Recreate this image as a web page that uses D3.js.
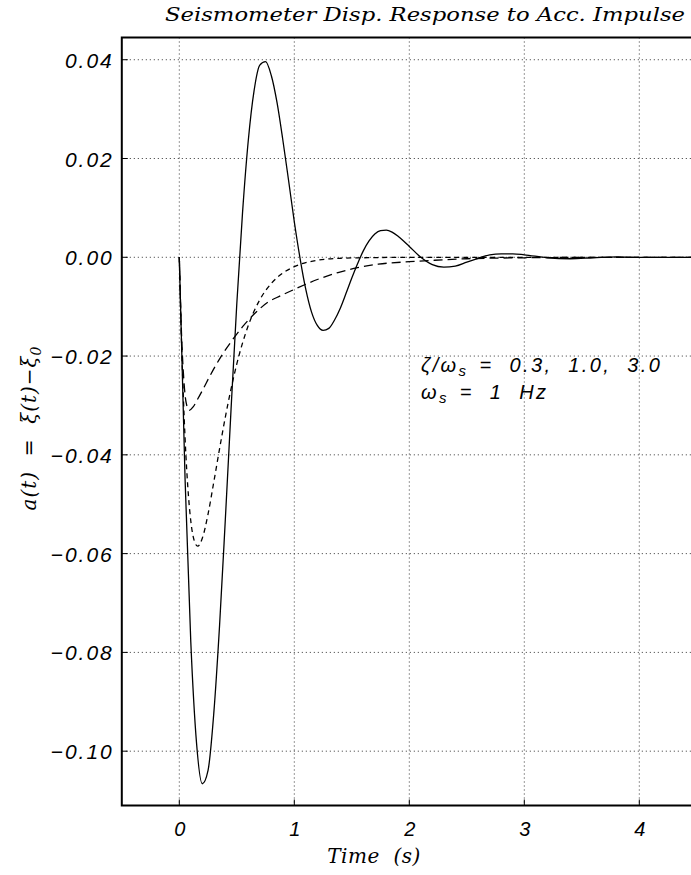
<!DOCTYPE html>
<html lang="en">
  <head>
      <meta charset="utf-8">
      <title>Seismometer Disp. Response</title>
      <script type="text/javascript" src="https://cdn.jsdelivr.net/npm/d3@7"></script>
      <style type="text/css">
            body { margin: 0; background: #fff; }
            .grid line { stroke: #333; stroke-width: 1; stroke-dasharray: 1,3; }
            .tick-lbl { font-family: "Liberation Sans", sans-serif; font-style: italic; font-size: 20px; letter-spacing: 2px; white-space: pre; }
            .curve { fill: none; stroke: #000; stroke-width: 1.3; }
            .ital { font-family: "DejaVu Serif", serif; font-style: italic; white-space: pre; }
      </style>
  </head>
  <body>
      <script type="text/javascript">
        var w = 691;
        var h = 875;

        // damping ratios zeta/omega_s = 0.3 (solid), 1.0 (short dash), 3.0 (long dash)
        var time03 = [0, 0.05, 0.1, 0.15, 0.2, 0.25, 0.3, 0.35, 0.4, 0.45, 0.5, 0.55, 0.6, 0.65, 0.7, 0.75, 0.8, 0.85, 0.9, 0.95, 1.0,
                      1.05, 1.1, 1.15, 1.2, 1.25, 1.3, 1.35, 1.4, 1.45, 1.5, 1.55, 1.6, 1.65, 1.7, 1.75, 1.8, 1.85, 1.9, 1.95, 2.0,
                      2.1, 2.2, 2.3, 2.4, 2.5, 2.6, 2.7, 2.8, 2.9, 3.0, 3.2, 3.4, 3.6, 3.8, 4.0, 5.0];
        var disp03 = [0, -0.0448, -0.0779, -0.0984, -0.1066, -0.1039, -0.0923, -0.0746, -0.0532, -0.0308, -0.0094, 0.0091, 0.0237, 0.0337, 0.0389, 0.0396, 0.0368, 0.0313, 0.0238, 0.0156, 0.0072,
                      -0.0002, -0.0065, -0.0111, -0.0138, -0.0148, -0.0144, -0.0127, -0.0103, -0.0073, -0.0042, -0.0013, 0.0013, 0.0033, 0.0047, 0.0054, 0.0055, 0.0051, 0.0043, 0.0033, 0.0022,
                      0.0000, -0.0015, -0.0020, -0.0018, -0.0010, -0.0002, 0.0005, 0.0007, 0.0007, 0.0005, -0.0001, -0.0003, -0.0001, 0.0001, 0.0000, 0.0000];

        var time10 = [0, 0.02, 0.05, 0.08, 0.1, 0.13, 0.16, 0.2, 0.25, 0.3, 0.35, 0.4, 0.5, 0.6, 0.7, 0.8, 0.9, 1.0, 1.2, 1.4, 1.6, 2.0, 3.0, 5.0];
        var disp10 = [0, -0.0176, -0.0365, -0.0484, -0.0534, -0.0574, -0.0585, -0.0569, -0.0520, -0.0455, -0.0388, -0.0324, -0.0216, -0.0138, -0.0086, -0.0053, -0.0032, -0.0019, -0.0006, -0.0002, -0.0001, 0, 0, 0];

        var time30 = [0, 0.02, 0.04, 0.06, 0.087, 0.12, 0.16, 0.2, 0.26, 0.36, 0.46, 0.56, 0.66, 0.77, 0.88, 1.0, 1.2, 1.38, 1.55, 1.73, 2.0, 2.22, 2.5, 3.0, 4.0, 5.0];
        var disp30 = [0, -0.0160, -0.0250, -0.0295, -0.0310, -0.0303, -0.0287, -0.0270, -0.0243, -0.0202, -0.0168, -0.0138, -0.0113, -0.0091, -0.0078, -0.0065, -0.0045, -0.0031, -0.0021, -0.0014, -0.0009, -0.0006, -0.0003, -0.0001, 0, 0];

        var xTicks = [0, 1, 2, 3, 4];
        var yTicks = [0.04, 0.02, 0.00, -0.02, -0.04, -0.06, -0.08, -0.10];

        var padL = 121.8, padR = 754.3, padT = 37.5, padB = 805.5;

        var xScale = d3.scaleLinear().domain([-0.5, 5]).range([padL, padR]);
        var yScale = d3.scaleLinear().domain([-0.111, 0.0445]).range([padB, padT]);

        var svg = d3.select("body")
              .append("svg")
              .attr("width", w)
              .attr("height", h);

        svg.append("defs").append("clipPath").attr("id", "plotclip")
            .append("rect")
            .attr("x", padL).attr("y", padT)
            .attr("width", padR - padL).attr("height", padB - padT);

        // dotted grid
        var grid = svg.append("g").attr("class", "grid");
        grid.selectAll(".gx").data(xTicks).enter().append("line")
            .attr("x1", function(d) { return xScale(d); })
            .attr("x2", function(d) { return xScale(d); })
            .attr("y1", padT).attr("y2", padB);
        grid.selectAll(".gy").data(yTicks).enter().append("line")
            .attr("x1", padL).attr("x2", padR)
            .attr("y1", function(d) { return yScale(d); })
            .attr("y2", function(d) { return yScale(d); });

        // short inward ticks
        svg.selectAll(".tky").data(yTicks).enter().append("line")
            .attr("x1", padL).attr("x2", padL + 6)
            .attr("y1", function(d) { return yScale(d); })
            .attr("y2", function(d) { return yScale(d); })
            .attr("stroke", "#000");
        svg.selectAll(".tkx").data(xTicks).enter().append("line")
            .attr("x1", function(d) { return xScale(d); })
            .attr("x2", function(d) { return xScale(d); })
            .attr("y1", padB).attr("y2", padB - 6)
            .attr("stroke", "#000");

        // tick labels through the axes
        var yAxis = d3.axisLeft(yScale).tickValues(yTicks).tickSize(0).tickPadding(8)
                      .tickFormat(d3.format(".2f"));
        var gy = svg.append("g").attr("transform", "translate(" + padL + ",0)").call(yAxis);
        gy.select(".domain").remove();
        gy.selectAll("text").attr("class", "tick-lbl").attr("fill", "#000").attr("dy", "0.36em")
            .style("font-size", "21px");

        var xAxis = d3.axisBottom(xScale).tickValues(xTicks).tickSize(0).tickPadding(16)
                      .tickFormat(d3.format("d"));
        var gx = svg.append("g").attr("transform", "translate(0," + padB + ")").call(xAxis);
        gx.select(".domain").remove();
        gx.selectAll("text").attr("class", "tick-lbl").attr("fill", "#000").style("letter-spacing", "0px");

        // curves
        function mkLine(ts) {
          return d3.line()
                   .x(function(d, i) { return xScale(ts[i]); })
                   .y(function(d) { return yScale(d); })
                   .curve(d3.curveMonotoneX);
        }
        var plot = svg.append("g").attr("clip-path", "url(#plotclip)");
        plot.append("path").datum(disp30).attr("class", "curve")
            .attr("stroke-dasharray", "9,5").attr("d", mkLine(time30));
        plot.append("path").datum(disp10).attr("class", "curve")
            .attr("stroke-dasharray", "5,4").attr("d", mkLine(time10));
        plot.append("path").datum(disp03).attr("class", "curve")
            .attr("d", mkLine(time03));

        // frame (left, top, bottom)
        svg.append("path")
            .attr("d", "M" + padR + "," + padT + "H" + padL + "V" + padB + "H" + padR)
            .attr("fill", "none").attr("stroke", "#000").attr("stroke-width", 2);

        // title
        svg.append("text").attr("class", "ital")
            .attr("x", 165).attr("y", 21)
            .attr("textLength", 520).attr("lengthAdjust", "spacingAndGlyphs")
            .style("font-size", "19px")
            .text("Seismometer Disp. Response to Acc. Impulse");

        // x label
        svg.append("text").attr("class", "ital")
            .attr("x", 374).attr("y", 863)
            .attr("text-anchor", "middle")
            .style("font-size", "20px")
            .style("letter-spacing", "0.5px")
            .text("Time  (s)");

        // y label
        var yl = svg.append("text").attr("class", "ital")
            .attr("transform", "translate(36,428) rotate(-90)")
            .attr("text-anchor", "middle")
            .style("font-size", "20px")
            .style("letter-spacing", "1px");
        yl.append("tspan").text("a(t)  =  \u03be(t)\u2212\u03be");
        yl.append("tspan").attr("dy", 5).style("font-size", "14px").text("0");

        // annotation
        var a1 = svg.append("text").attr("x", 421).attr("y", 372)
            .attr("class", "tick-lbl").style("letter-spacing", "2.4px");
        a1.append("tspan").text("\u03b6/\u03c9");
        a1.append("tspan").attr("dy", 4).style("font-size", "15px").text("s");
        a1.append("tspan").attr("dy", -4).attr("dx", 3).text(" =  0.3,  1.0,  3.0");

        var a2 = svg.append("text").attr("x", 421).attr("y", 399)
            .attr("class", "tick-lbl").style("letter-spacing", "2.4px");
        a2.append("tspan").text("\u03c9");
        a2.append("tspan").attr("dy", 4).style("font-size", "15px").text("s");
        a2.append("tspan").attr("dy", -4).attr("dx", 3).text(" =  1  Hz");
      </script>
  </body>
</html>
